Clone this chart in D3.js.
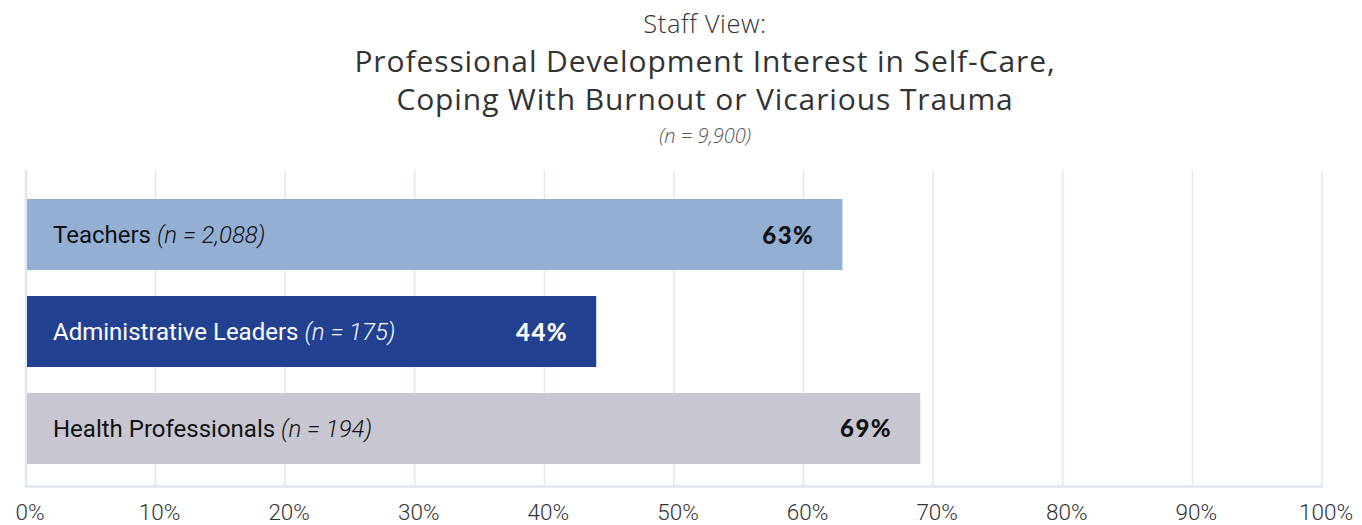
<!DOCTYPE html>
<html><head><meta charset="utf-8">
<script src="https://cdn.jsdelivr.net/npm/d3@7"></script>
<style>body{margin:0;background:#fff;} svg{display:block;}</style>
</head><body>
<svg id="c" width="1362" height="525"></svg>
<script>
const categories = ["Teachers", "Administrative Leaders", "Health Professionals"];
const sampleSizes = ["(n = 2,088)", "(n = 175)", "(n = 194)"];
const values = [63, 44, 69];
const tickValues = [0,10,20,30,40,50,60,70,80,90,100];
const barColors = ["#93afd4", "#234191", "#c8c7d1"];
const labelColors = ["#111", "#fff", "#111"];

const svg = d3.select("#c");
const x = d3.scaleLinear().domain([0,100]).range([26,1322]);
const y = d3.scaleBand().domain(categories).range([170,493]).paddingInner(0.268).paddingOuter(0.299);

// title
const t = svg.append("g").attr("text-anchor","middle").attr("fill","#333");
t.append("text").attr("x",705).attr("y",33).attr("font-family","Open Sans").attr("font-weight",300).attr("font-size",25.5).attr("letter-spacing",0.6).text("Staff View:");
t.append("text").attr("x",705).attr("y",72).attr("font-family","Open Sans").attr("font-size",30).attr("letter-spacing",0.9).text("Professional Development Interest in Self-Care,");
t.append("text").attr("x",705).attr("y",110).attr("font-family","Open Sans").attr("font-size",30).attr("letter-spacing",0.9).text("Coping With Burnout or Vicarious Trauma");
t.append("text").attr("x",705).attr("y",143).attr("font-family","Open Sans").attr("font-style","italic").attr("font-weight",300).attr("font-size",20).attr("fill","#555").text("(n = 9,900)");

// grid
svg.append("g").selectAll("line").data(tickValues).join("line")
  .attr("x1",d=>x(d)).attr("x2",d=>x(d)).attr("y1",170).attr("y2",487)
  .attr("stroke","#e0e6f1").attr("stroke-width",d=>d===0?2.5:1.5);
svg.append("line").attr("x1",x(0)-1).attr("x2",x(100)+1).attr("y1",486.5).attr("y2",486.5)
  .attr("stroke","#dfe6f2").attr("stroke-width",2.5);

// axis labels
svg.append("g").selectAll("text").data(tickValues).join("text")
  .attr("x",d=>x(d)+4).attr("y",520).attr("text-anchor","middle")
  .attr("font-family","Roboto").attr("font-weight",300).attr("font-size",22.5).attr("fill","#333")
  .text(d=>d+"%");

// bars
const bars = svg.append("g").selectAll("g").data(categories).join("g");
bars.append("rect").attr("x",x(0)+1).attr("y",d=>y(d)).attr("height",y.bandwidth())
  .attr("width",(d,i)=>x(values[i])-x(0)-1).attr("fill",(d,i)=>barColors[i]);
const lab = bars.append("text").attr("x",53).attr("y",d=>y(d)+y.bandwidth()/2+8.5)
  .attr("font-family","Roboto").attr("font-size",24).attr("fill",(d,i)=>labelColors[i]);
lab.append("tspan").text(d=>d+" ");
lab.append("tspan").attr("font-style","italic").attr("font-weight",300).text((d,i)=>sampleSizes[i]);
bars.append("text").attr("x",(d,i)=>x(values[i])-28).attr("y",d=>y(d)+y.bandwidth()/2+9)
  .attr("text-anchor","end").attr("font-family","Lato").attr("font-weight",900).attr("font-size",24)
  .attr("letter-spacing",1.5).attr("fill",(d,i)=>labelColors[i]).text((d,i)=>values[i]+"%");
</script>
</body></html>
